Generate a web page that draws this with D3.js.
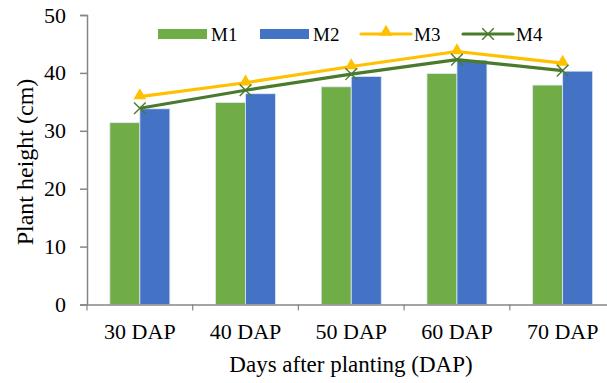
<!DOCTYPE html>
<html>
<head>
<meta charset="utf-8">
<script src="https://cdn.jsdelivr.net/npm/d3@7"></script>
<style>
  html, body { margin: 0; padding: 0; background: #fff; }
  svg { display: block; }
  text { font-family: "Liberation Serif", "Times New Roman", serif; fill: #000; }
</style>
</head>
<body>
<svg id="chart" width="607" height="383"></svg>
<script>
// Plant height (cm) by days after planting
const categories = ["30 DAP", "40 DAP", "50 DAP", "60 DAP", "70 DAP"];
const m1 = [31.4, 34.9, 37.6, 39.9, 37.9];
const m2 = [33.8, 36.4, 39.4, 42.2, 40.3];
const m3 = [35.9, 38.3, 41.1, 43.7, 41.7];
const m4 = [33.9, 37.0, 39.8, 42.3, 40.4];
const yTicks = [0, 10, 20, 30, 40, 50];

const colors = { M1: "#70AD47", M2: "#4472C4", M3: "#FFC000", M4: "#4A7A2C" };

const svg = d3.select("#chart");
const plotLeft = 87, plotBottom = 304.5, plotTop = 15;
const bandW = 105.7;

const x = d3.scaleBand().domain(categories)
  .range([plotLeft, plotLeft + bandW * categories.length]).paddingInner(0).paddingOuter(0);
const y = d3.scaleLinear().domain([0, 50]).range([plotBottom, plotTop]);
const barW = 30;

// y axis
const yAxis = svg.append("g").attr("transform", `translate(${plotLeft},0)`)
  .call(d3.axisLeft(y).tickValues(yTicks).tickSize(7).tickPadding(14));
yAxis.attr("font-family", null).attr("font-size", null);
yAxis.select(".domain").attr("stroke", "#868686").attr("stroke-width", 1.5);
yAxis.selectAll(".tick line").attr("stroke", "#868686").attr("stroke-width", 1.5);
yAxis.selectAll(".tick text").style("font-size", "22px").attr("fill", "#000");

// bars
const barSeries = [{ key: "M1", vals: m1, off: -barW }, { key: "M2", vals: m2, off: 0 }];
barSeries.forEach(s => {
  svg.append("g").selectAll("rect").data(s.vals).join("rect")
    .attr("x", (d, i) => x(categories[i]) + x.bandwidth() / 2 + s.off)
    .attr("y", d => y(d))
    .attr("width", barW)
    .attr("height", d => plotBottom - y(d))
    .attr("fill", colors[s.key])
    .attr("stroke", "#dfe8f5")
    .attr("stroke-width", 0.8);
});

// x axis
const xAxis = svg.append("g").attr("transform", `translate(0,${plotBottom})`)
  .call(d3.axisBottom(x).tickSize(0).tickPadding(18.5));
xAxis.attr("font-family", null).attr("font-size", null);
xAxis.select(".domain").attr("stroke", "#868686").attr("stroke-width", 1.5);
xAxis.selectAll(".tick text").style("font-size", "22px").attr("fill", "#000");
// category separators
svg.append("g").selectAll("line").data(categories).join("line")
  .attr("x1", d => x(d)).attr("x2", d => x(d))
  .attr("y1", plotBottom).attr("y2", plotBottom + 6)
  .attr("stroke", "#868686").attr("stroke-width", 1.2);

// lines
const cx = i => x(categories[i]) + x.bandwidth() / 2;
const line = d3.line().x((d, i) => cx(i)).y(d => y(d));

svg.append("path").datum(m3).attr("d", line)
  .attr("fill", "none").attr("stroke", colors.M3).attr("stroke-width", 3.2)
  .attr("stroke-linejoin", "round");
svg.append("path").datum(m4).attr("d", line)
  .attr("fill", "none").attr("stroke", colors.M4).attr("stroke-width", 3.2)
  .attr("stroke-linejoin", "round");

const tri = d3.symbol().type(d3.symbolTriangle).size(70);
svg.append("g").selectAll("path").data(m3).join("path")
  .attr("d", tri)
  .attr("transform", (d, i) => `translate(${cx(i)},${y(d) - 1})`)
  .attr("fill", colors.M3);

const cross = d3.symbol().type(d3.symbolX).size(90);
svg.append("g").selectAll("path").data(m4).join("path")
  .attr("d", cross)
  .attr("transform", (d, i) => `translate(${cx(i)},${y(d)})`)
  .attr("fill", "none").attr("stroke", colors.M4).attr("stroke-width", 1.4);

// legend
const legend = svg.append("g");
const legendItems = [
  { key: "M1", x: 158, type: "bar" },
  { key: "M2", x: 260, type: "bar" },
  { key: "M3", x: 361, type: "line" },
  { key: "M4", x: 463, type: "line" }
];
legendItems.forEach(it => {
  const g = legend.append("g");
  if (it.type === "bar") {
    g.append("rect").attr("x", it.x).attr("y", 29).attr("width", 49).attr("height", 10)
      .attr("fill", colors[it.key]);
  } else {
    g.append("line").attr("x1", it.x).attr("x2", it.x + 50).attr("y1", 34).attr("y2", 34)
      .attr("stroke", colors[it.key]).attr("stroke-width", 3.2).attr("stroke-linecap", "round");
    if (it.key === "M3") {
      g.append("path").attr("d", tri).attr("transform", `translate(${it.x + 25},32)`)
        .attr("fill", colors.M3);
    } else {
      g.append("path").attr("d", cross).attr("transform", `translate(${it.x + 25},34)`)
        .attr("fill", "none").attr("stroke", colors.M4).attr("stroke-width", 1.4);
    }
  }
  g.append("text").attr("x", it.x + 53).attr("y", 41)
    .style("font-size", "19px").text(it.key);
});

// axis titles
svg.append("text")
  .attr("transform", `translate(33,162) rotate(-90)`)
  .attr("text-anchor", "middle")
  .style("font-size", "24px")
  .text("Plant height (cm)");

svg.append("text")
  .attr("x", 351).attr("y", 372)
  .attr("text-anchor", "middle")
  .style("font-size", "23px")
  .text("Days after planting (DAP)");
</script>
</body>
</html>
